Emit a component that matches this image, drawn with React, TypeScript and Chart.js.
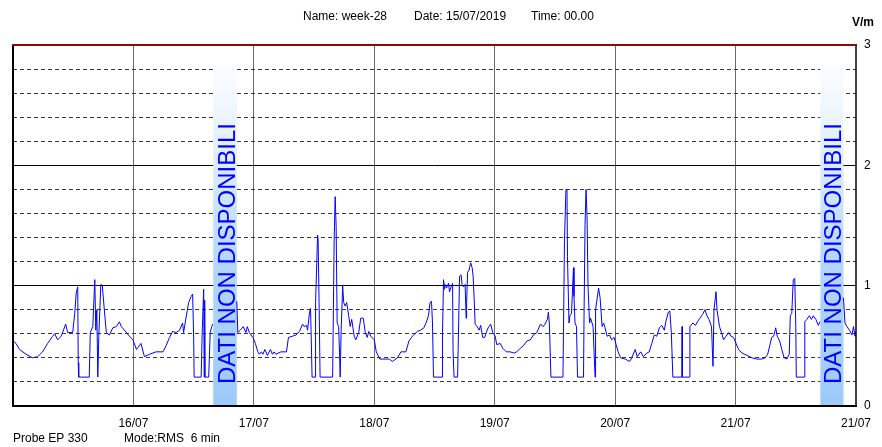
import React, { useEffect, useRef } from "react";
import { Chart, registerables } from "chart.js";

Chart.register(...registerables);

// ---- data (hours since 15/07/2019 00:00, field strength V/m) ----
const hours = [
  0.0, 0.6, 1.3, 2.6, 3.9, 4.9, 5.9, 6.9, 7.9, 8.3, 8.9, 9.6, 10.5, 10.9, 11.9, 12.3, 12.6, 12.9, 13.0, 13.1,
  15.2, 15.4, 15.9, 16.3, 16.5, 16.7, 16.9, 17.1, 17.5, 17.8, 18.2, 18.6, 19.2, 19.9, 20.6, 21.2, 21.6, 22.2, 23.2, 23.9,
  24.6, 25.5, 26.2, 27.2, 28.5, 29.9, 30.5, 31.2, 31.8, 32.5, 33.2, 33.8, 34.0, 34.3, 35.0, 35.5, 35.8, 36.0, 36.1, 37.5,
  37.7, 38.0, 38.1, 38.2, 38.3, 39.0, 39.3, 39.6, 39.8, 40.0,
  44.6, 44.8, 45.3, 45.9, 46.4, 46.7, 47.1, 47.8, 48.3, 48.8, 49.1, 49.5, 49.8, 50.2, 50.7, 51.3, 51.7, 52.0, 52.4, 53.4,
  54.0, 54.5, 54.9, 55.7, 56.4, 57.1, 57.7, 58.0, 58.5, 58.7, 59.1, 59.3, 59.4, 59.6, 60.2, 60.3, 60.7, 60.8, 61.0, 61.2,
  63.7, 63.8, 64.0, 64.2, 64.4, 64.6, 64.9, 65.1, 65.2, 65.4, 65.7, 65.9, 66.2, 66.5, 66.9, 67.2, 67.5, 68.0, 68.3, 68.9,
  69.3, 69.8, 70.2, 70.6, 70.9, 71.3, 72.0, 72.4, 73.1, 74.3, 75.0, 75.6, 76.6, 77.3, 78.3, 78.9, 79.6, 80.6, 81.2, 81.9,
  82.3, 82.8, 83.1, 83.4, 83.6, 83.8, 85.5, 85.6, 85.8, 86.0, 86.1, 86.4, 86.8, 87.0, 87.3, 87.6, 87.7, 87.9, 88.6, 88.7,
  89.0, 89.3, 89.5, 89.8, 90.1, 90.3, 90.4, 90.6, 90.9, 91.2, 91.5, 91.7, 91.9, 92.1, 92.5, 92.9, 93.2, 93.6, 94.0, 94.4,
  94.7, 95.2, 95.6, 96.1, 96.4, 97.1, 97.6, 98.3, 99.1, 99.8, 100.4, 101.1, 101.7, 102.4, 103.1, 103.7, 104.4, 105.1, 105.7, 106.0,
  106.5, 106.7, 106.9, 107.2, 109.6, 109.7, 109.9, 110.2, 110.4, 110.5, 110.8, 111.0, 111.3, 111.7, 111.8, 112.0, 112.3, 112.5, 113.7, 113.8,
  114.0, 114.2, 114.4, 114.6, 114.9, 115.1, 115.4, 115.6, 116.0, 116.1, 116.7, 117.0, 117.4, 117.7, 118.0, 118.4, 118.9, 119.3, 119.8, 120.2,
  120.6, 121.1, 122.0, 122.9, 123.3, 124.0, 124.4, 125.1, 125.6, 126.3, 126.8, 127.3, 127.8, 128.3, 128.8, 129.3, 129.8, 130.1, 130.6, 130.9,
  131.2, 131.5, 133.3, 133.35, 133.4, 134.8, 134.9, 135.5, 136.0, 136.4, 136.9, 137.4, 137.9, 138.3, 138.7, 139.2, 139.5, 139.7, 140.1, 140.3,
  140.8, 141.2, 141.6, 142.1, 142.6, 143.1, 143.6, 144.1, 144.6, 145.3, 146.3, 147.3, 148.2, 149.2, 149.9, 150.4, 150.8, 151.2, 151.6, 152.0,
  152.3, 152.8, 153.2, 153.7, 154.2, 154.7, 154.9, 155.2, 155.5, 155.8, 156.0, 156.1, 157.7, 157.8, 158.2, 158.7, 159.1, 159.5, 160.0, 160.5,
  160.8, 161.0,
  165.5, 165.8, 166.2, 166.7, 167.2, 167.5, 167.8, 168.0,
];

const volts = [
  0.54, 0.52, 0.47, 0.43, 0.40, 0.41, 0.45, 0.52, 0.58, 0.60, 0.55, 0.58, 0.68, 0.61, 0.61, 0.77, 0.94, 0.99, 0.36, 0.24,
  0.24, 0.61, 0.66, 1.05, 0.63, 0.80, 0.24, 0.58, 1.01, 1.00, 0.80, 0.61, 0.59, 0.65, 0.66, 0.70, 0.66, 0.63, 0.58, 0.55,
  0.47, 0.52, 0.41, 0.43, 0.45, 0.45, 0.50, 0.57, 0.62, 0.61, 0.63, 0.69, 0.61, 0.69, 0.86, 0.91, 0.93, 0.58, 0.24, 0.24,
  0.61, 0.97, 0.24, 0.88, 0.24, 0.24, 0.61, 0.66, 0.68, null,
  0.87, 0.61, 0.63, 0.66, 0.61, 0.66, 0.61, 0.57, 0.52, 0.45, 0.43, 0.45, 0.43, 0.47, 0.42, 0.47, 0.43, 0.45, 0.43, 0.45,
  0.45, 0.45, 0.57, 0.58, 0.59, 0.62, 0.68, 0.66, 0.67, 0.63, 0.78, 0.81, 0.63, 0.24, 0.24, 0.86, 1.42, 1.39, 0.86, 0.24,
  0.24, 0.61, 1.37, 1.74, 1.49, 0.69, 0.66, 0.41, 0.24, 0.63, 1.00, 0.86, 0.83, 0.86, 0.75, 0.66, 0.72, 0.58, 0.55, 0.61,
  0.73, 0.73, 0.61, 0.57, 0.62, 0.58, 0.55, 0.45, 0.39, 0.39, 0.39, 0.37, 0.40, 0.45, 0.45, 0.54, 0.58, 0.62, 0.63, 0.65,
  0.69, 0.75, 0.86, 0.87, 0.69, 0.24, 0.24, 0.61, 1.05, 0.97, 1.01, 0.98, 1.02, 0.95, 0.99, 1.02, 0.45, 0.24, 0.24, 0.45,
  1.08, 1.09, 1.01, 0.99, 1.01, 0.73, 0.86, 1.11, 1.13, 1.19, 1.15, 1.08, 0.89, 0.68, 0.66, 0.63, 0.67, 0.57, 0.57, 0.62,
  0.65, 0.68, 0.61, 0.58, 0.51, 0.52, 0.48, 0.45, 0.45, 0.44, 0.45, 0.48, 0.50, 0.54, 0.55, 0.59, 0.61, 0.68, 0.66, 0.68,
  0.72, 0.78, 0.68, 0.24, 0.24, 0.61, 1.37, 1.80, 1.80, 1.24, 0.69, 0.75, 0.77, 1.15, 0.91, 0.69, 0.66, 0.24, 0.24, 0.75,
  1.51, 1.80, 1.58, 0.99, 0.69, 0.73, 0.69, 0.66, 0.24, 0.80, 0.98, 0.90, 0.66, 0.69, 0.65, 0.58, 0.59, 0.55, 0.57, 0.51,
  0.45, 0.40, 0.39, 0.37, 0.40, 0.47, 0.41, 0.45, 0.41, 0.44, 0.45, 0.52, 0.59, 0.58, 0.65, 0.67, 0.63, 0.70, 0.78, 0.79,
  0.61, 0.24, 0.24, 0.66, 0.24, 0.24, 0.66, 0.69, 0.67, 0.70, 0.73, 0.76, 0.80, 0.75, 0.72, 0.66, 0.33, 0.80, 0.95, 0.80,
  0.66, 0.61, 0.55, 0.58, 0.61, 0.58, 0.57, 0.52, 0.47, 0.44, 0.42, 0.40, 0.39, 0.39, 0.40, 0.43, 0.50, 0.57, 0.58, 0.65,
  0.58, 0.54, 0.47, 0.40, 0.39, 0.43, 0.75, 0.77, 1.05, 1.06, 0.66, 0.24, 0.24, 0.70, 0.72, 0.75, 0.72, 0.75, 0.72, 0.67,
  0.70, null,
  0.90, 0.69, 0.66, 0.63, 0.59, 0.66, 0.58, 0.62,
];

// x tick labels, one per day boundary (hours 0, 24, ... 168)
const dayLabels = ["", "16/07", "17/07", "18/07", "19/07", "20/07", "21/07", "21/07"];

// periods with no data
const gapStarts = [39.9, 160.9];
const gapEnds = [44.6, 165.5];
const gapTopValue = 2.88;
const gapText = "DATI NON DISPONIBILI";

const headerName = "Name: week-28";
const headerDate = "Date: 15/07/2019";
const headerTime = "Time: 00.00";
const unitLabel = "V/m";
const probeLabel = "Probe EP 330";
const modeLabel = "Mode:RMS  6 min";

const FONT = "'Liberation Sans', Arial, sans-serif";

const isInt = (v: number) => Math.abs(v - Math.round(v)) < 1e-6;

const decorPlugin = {
  id: "decor",
  beforeDatasetsDraw(chart: any) {
    const { ctx, chartArea, scales } = chart;
    const xs = scales.x;
    const ys = scales.y;
    const top = ys.getPixelForValue(gapTopValue);
    const bottom = chartArea.bottom;
    gapStarts.forEach((s, i) => {
      const x0 = xs.getPixelForValue(s);
      const x1 = xs.getPixelForValue(gapEnds[i]);
      const g = ctx.createLinearGradient(0, top, 0, bottom);
      g.addColorStop(0, "#ffffff");
      g.addColorStop(0.3, "#dcecfe");
      g.addColorStop(0.6, "#b3d6fc");
      g.addColorStop(1, "#9ccaf9");
      ctx.save();
      ctx.fillStyle = g;
      ctx.fillRect(x0, top, x1 - x0, bottom - top);
      ctx.translate(x1 - 2, bottom - 22);
      ctx.rotate(-Math.PI / 2);
      ctx.fillStyle = "#0000ff";
      ctx.font = `24px ${FONT}`;
      ctx.textAlign = "left";
      ctx.textBaseline = "alphabetic";
      ctx.fillText(gapText, 0, 0);
      ctx.restore();
    });
  },
  afterDraw(chart: any) {
    const { ctx, chartArea } = chart;
    const { left, right, top, bottom } = chartArea;
    ctx.save();
    // frame
    ctx.lineWidth = 1.5;
    ctx.strokeStyle = "#000";
    ctx.beginPath();
    ctx.moveTo(right, top);
    ctx.lineTo(right, bottom);
    ctx.stroke();
    ctx.lineWidth = 2;
    ctx.beginPath();
    ctx.moveTo(left, top);
    ctx.lineTo(left, bottom);
    ctx.lineTo(right + 1, bottom);
    ctx.stroke();
    ctx.strokeStyle = "#8b0a0a";
    ctx.beginPath();
    ctx.moveTo(left - 1, top);
    ctx.lineTo(right + 1, top);
    ctx.stroke();
    // texts
    ctx.fillStyle = "#000";
    ctx.font = `12px ${FONT}`;
    ctx.textBaseline = "middle";
    ctx.textAlign = "left";
    ctx.fillText(headerName, 303, 17);
    ctx.fillText(headerDate, 414, 17);
    ctx.fillText(headerTime, 531, 17);
    ctx.fillText(probeLabel, 13, 439);
    ctx.fillText(modeLabel, 124, 439);
    ctx.font = `bold 12px ${FONT}`;
    ctx.fillText(unitLabel, 852, 23);
    ctx.restore();
  },
};

export default function App() {
  const canvasRef = useRef<HTMLCanvasElement | null>(null);

  useEffect(() => {
    document.body.style.margin = "0";
    const canvas = canvasRef.current;
    if (!canvas) return;
    const points = hours.map((h, i) => ({ x: h, y: volts[i] }));
    const chart = new Chart(canvas, {
      type: "line",
      data: {
        datasets: [
          {
            data: points as any,
            borderColor: "#0000ff",
            borderWidth: 1,
            pointRadius: 0,
            tension: 0,
            spanGaps: false,
          },
        ],
      },
      options: {
        animation: false,
        responsive: false,
        devicePixelRatio: 1,
        layout: { padding: { left: 13, top: 45, right: 0, bottom: 16 } },
        plugins: { legend: { display: false }, tooltip: { enabled: false }, title: { display: false } },
        scales: {
          x: {
            type: "linear",
            min: 0,
            max: 168,
            afterBuildTicks: (s: any) => {
              s.ticks = dayLabels.map((_, i) => ({ value: i * 24 }));
            },
            afterFit: (s: any) => {
              s.height = 25;
            },
            border: { display: false },
            grid: {
              drawTicks: false,
              color: (c: any) => (c.index === 0 || c.index === dayLabels.length - 1 ? "rgba(0,0,0,0)" : "#6a6a6a"),
              lineWidth: 1,
            },
            ticks: {
              padding: 10,
              maxRotation: 0,
              autoSkip: false,
              color: "#000",
              font: { family: FONT, size: 12 },
              callback: (v: any) => dayLabels[Math.round(Number(v) / 24)] ?? "",
            },
          },
          y: {
            type: "linear",
            position: "right",
            min: 0,
            max: 3,
            afterFit: (s: any) => {
              s.width = 26;
            },
            border: {
              display: false,
              dash: (c: any) => {
                const v = c && c.tick ? c.tick.value : 0;
                return isInt(v) ? [] : [4, 3];
              },
            },
            grid: {
              drawTicks: false,
              color: (c: any) => {
                const v = c.tick ? c.tick.value : 0;
                if (v < 1e-6 || v > 3 - 1e-6) return "rgba(0,0,0,0)";
                return isInt(v) ? "#000" : "#3a3a3a";
              },
              lineWidth: 1,
            },
            ticks: {
              stepSize: 0.2,
              padding: 8,
              autoSkip: false,
              color: "#000",
              font: { family: FONT, size: 12 },
              callback: (v: any) => (isInt(Number(v)) ? String(Math.round(Number(v))) : ""),
            },
          },
        },
      },
      plugins: [decorPlugin],
    });
    return () => chart.destroy();
  }, []);

  return (
    <div style={{ width: 882, height: 447, background: "#fff" }}>
      <canvas ref={canvasRef} width={882} height={447} style={{ display: "block" }} />
    </div>
  );
}
